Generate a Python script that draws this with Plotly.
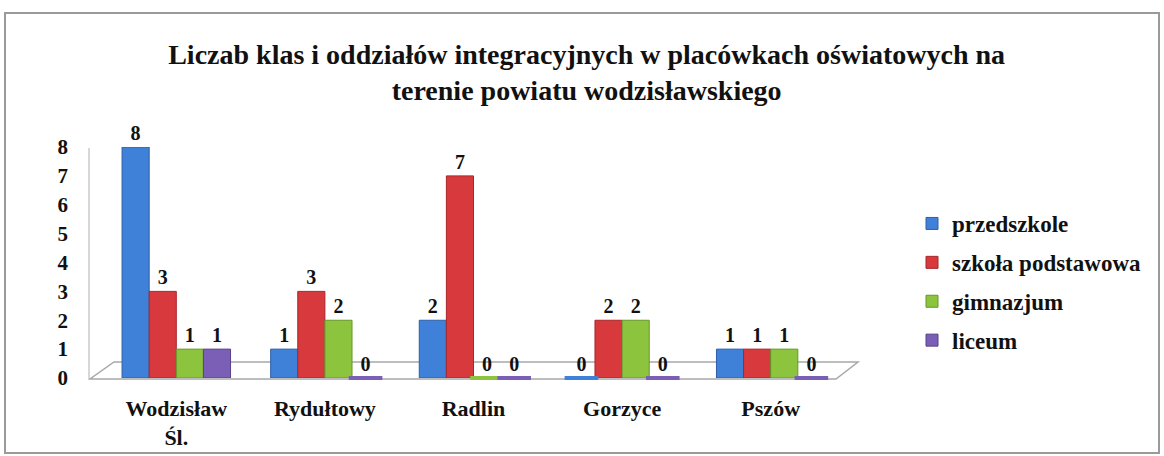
import plotly.graph_objects as go

categories = ["Wodzisław<br>Śl.", "Rydułtowy", "Radlin", "Gorzyce", "Pszów"]
series_names = ["przedszkole", "szkoła podstawowa", "gimnazjum", "liceum"]
przedszkole = [8, 1, 2, 0, 1]
szkola_podstawowa = [3, 3, 7, 2, 1]
gimnazjum = [1, 2, 0, 2, 1]
liceum = [1, 0, 0, 0, 0]
y_ticks = [0, 1, 2, 3, 4, 5, 6, 7, 8]

series_values = [przedszkole, szkola_podstawowa, gimnazjum, liceum]
colors = ["#3f80d8", "#d8393c", "#8cc43e", "#7b5fb6"]
edge_colors = ["#2c5fa8", "#a8262a", "#66962a", "#57428a"]

FONT = "Liberation Serif"

fig = go.Figure()
for name, vals, c, ec, g in zip(series_names, series_values, colors, edge_colors, "abcd"):
    fig.add_trace(go.Bar(
        x=categories, y=vals, name=name, offsetgroup=g, legendgroup=g,
        marker=dict(color=c, line=dict(color=ec, width=1)),
        text=vals, texttemplate="%{y}", textposition="outside",
        textfont=dict(family=FONT, size=20, color="#111", weight="bold"),
        cliponaxis=False,
    ))
# flat discs for zero values
for name, vals, c, g in zip(series_names, series_values, colors, "abcd"):
    zy = [0 if v == 0 else None for v in vals]
    fig.add_trace(go.Scatter(
        x=categories, y=zy, mode="markers", offsetgroup=g, showlegend=False,
        marker=dict(symbol="line-ew", size=24, line=dict(color=c, width=4)),
        cliponaxis=False, hoverinfo="skip",
    ))

# plot area in px: x 102..845, y 147..378
L, R, T, B = 102, 845, 147, 378
W, H = R - L, B - T
def px(x):
    return (x - L) / W
def py(y):
    return (B - y) / H

shapes = [
    dict(type="rect", xref="paper", yref="paper",
         x0=px(5), x1=px(1159), y0=py(453), y1=py(13),
         line=dict(color="#9a9a9a", width=2)),
    dict(type="path", xref="paper", yref="paper",
         path=f"M {px(90)},{py(379)} L {px(836)},{py(379)} L {px(858)},{py(362)} L {px(114)},{py(362)} Z",
         line=dict(color="#a8a8a8", width=1.5), fillcolor="rgba(0,0,0,0)", layer="below"),
    dict(type="line", xref="paper", yref="paper",
         x0=px(89), x1=px(89), y0=py(379), y1=py(148),
         line=dict(color="#b0b0b0", width=1), layer="below"),
]

fig.update_layout(
    template="none",
    width=1164, height=456,
    margin=dict(l=L, r=1164 - R, t=T, b=456 - B, autoexpand=False),
    paper_bgcolor="white", plot_bgcolor="white",
    barmode="group", bargap=0.27, bargroupgap=0,
    scattermode="group", scattergap=0.27,
    title=dict(
        text="Liczab klas i oddziałów integracyjnych w placówkach oświatowych na<br>terenie powiatu wodzisławskiego",
        x=0.504, xref="container", xanchor="center",
        y=1 - 64 / 456, yref="container", yanchor="middle",
        font=dict(family=FONT, size=28, color="#111", weight="bold"),
    ),
    font=dict(family=FONT, color="#111"),
    xaxis=dict(
        type="category", showgrid=False, showline=False, zeroline=False, automargin=False,
        ticks="", tickfont=dict(family=FONT, size=22, color="#111", weight="bold"),
        ticklabelstandoff=15,
    ),
    yaxis=dict(
        range=[0, 8], tickvals=y_ticks, showgrid=False, showline=False, zeroline=False,
        automargin=False, ticks="",
        tickfont=dict(family=FONT, size=21, color="#111", weight="bold"),
        ticklabelstandoff=33,
    ),
    legend=dict(
        x=px(912), xanchor="left", y=py(202), yanchor="top",
        font=dict(family=FONT, size=23, color="#111", weight="bold"),
        traceorder="grouped", tracegroupgap=6,
        itemwidth=30, bgcolor="rgba(0,0,0,0)",
    ),
    shapes=shapes,
)

fig.write_html("out.html", post_script="document.body.style.margin='0';",
               config={"displayModeBar": False})
